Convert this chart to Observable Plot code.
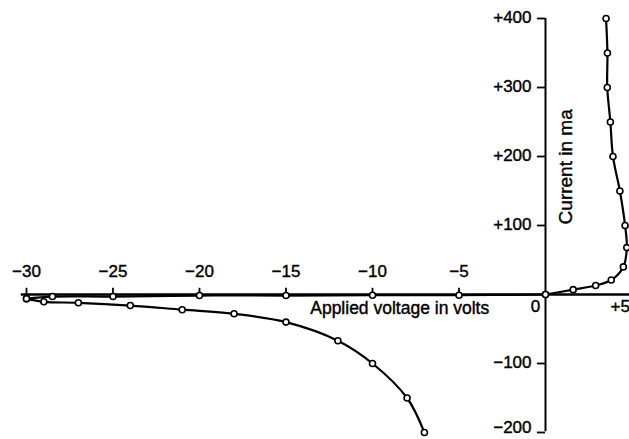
<!DOCTYPE html>
<html>
<head>
<meta charset="utf-8">
<script src="https://cdn.jsdelivr.net/npm/d3@7"></script>
<script src="https://cdn.jsdelivr.net/npm/@observablehq/plot@0.6"></script>
<style>
  html, body { margin: 0; padding: 0; background: #fff; overflow: hidden; }
  #chart svg { display: block; }
</style>
</head>
<body>
<div id="chart"></div>
<script>
// Forward characteristic (volts, mA)
const fwdVolts = [0, 1.6, 2.9, 3.8, 4.5, 4.7, 4.6, 4.3, 3.9, 3.75, 3.57, 3.58, 3.5];
const fwdCurrent = [0, 7, 13, 21, 40, 68, 100, 150, 200, 250, 300, 350, 400];
// Reverse leakage curve lying along the axis
const leakVolts = [-30, -28.5, -25, -20, -15, -10, -5, 0];
const leakCurrent = [-6, -3, -3, -1.5, -1.5, -1, -1, 0];
// Reverse breakdown curve
const revVolts = [-30, -29, -27, -24, -21, -18, -15, -12, -10, -8, -7];
const revCurrent = [-6, -10.6, -12, -16, -22, -28, -40, -67, -100, -150, -200];
// Ticks
const xTicks = [-30, -25, -20, -15, -10, -5];
const xTickLabels = ["\u221230", "\u221225", "\u221220", "\u221215", "\u221210", "\u22125"];
const yTicks = [400, 300, 200, 100, -100, -200];
const yTickLabels = ["+400", "+300", "+200", "+100", "\u2212100", "\u2212200"];

const toRows = (xs, ys) => xs.map((v, i) => ({v, i: ys[i]}));
const fwd = toRows(fwdVolts, fwdCurrent);
const leak = toRows(leakVolts, leakCurrent);
const rev = toRows(revVolts, revCurrent);
const xt = xTicks.map((v, k) => ({v, label: xTickLabels[k]}));
const yt = yTicks.map((v, k) => ({v, label: yTickLabels[k]}));
const yMin = d3.min(yTicks);

const font = "'Liberation Sans', Arial, sans-serif";
const txt = {fill: "black", stroke: "black", strokeWidth: 0.4};

const chart = Plot.plot({
  width: 629,
  height: 439,
  style: {fontFamily: font, fontSize: "16px", background: "white", color: "black", overflow: "hidden"},
  x: {domain: [-30, 5], range: [26, 631.5], axis: null},
  y: {domain: [-200, 400], range: [432, 18], axis: null},
  marks: [
    // axes
    Plot.ruleY([0], {x1: -30.3, x2: 5.5, stroke: "black", strokeWidth: 2.6}),
    Plot.ruleX([0], {y1: -199, y2: 400, stroke: "black", strokeWidth: 2}),
    Plot.ruleX(xt, {x: "v", y1: 0, y2: 9, stroke: "black", strokeWidth: 1.8}),
    Plot.ruleY(yt, {y: "v", x1: 0, x2: -0.47, stroke: "black", strokeWidth: 1.8}),
    Plot.text(xt, {x: "v", y: 0, dy: -23, text: "label", fontSize: 17, ...txt}),
    Plot.text(yt.filter(d => d.v > yMin), {x: 0, y: "v", dx: -14, dy: -1, textAnchor: "end", text: "label", fontSize: 17, ...txt}),
    Plot.text(yt.filter(d => d.v === yMin), {x: 0, y: "v", dx: -14, dy: -5, textAnchor: "end", text: "label", fontSize: 17, ...txt}),
    Plot.text(["0"], {x: 0, y: 0, dx: -10, dy: 12, text: d => d, fontSize: 17, ...txt}),
    Plot.text(["+5"], {x: 5, y: 0, dx: -2, dy: 12, textAnchor: "end", text: d => d, fontSize: 17, ...txt}),
    Plot.text(["Applied voltage in volts"], {x: -13.6, y: 0, dy: 14, textAnchor: "start", text: d => d, fontSize: 17.5, ...txt}),
    Plot.text(["Current in ma"], {x: 0, y: 185, dx: 20, rotate: -90, text: d => d, fontSize: 19, ...txt}),
    // curves
    Plot.line(leak, {x: "v", y: "i", curve: "catmull-rom", stroke: "black", strokeWidth: 2.2}),
    Plot.line(rev, {x: "v", y: "i", curve: "catmull-rom", stroke: "black", strokeWidth: 2.2}),
    Plot.line(fwd, {x: "v", y: "i", curve: "catmull-rom", stroke: "black", strokeWidth: 2.2}),
    Plot.dot(leak, {x: "v", y: "i", r: 3, fill: "white", stroke: "black", strokeWidth: 1.6}),
    Plot.dot(rev, {x: "v", y: "i", r: 3, fill: "white", stroke: "black", strokeWidth: 1.6}),
    Plot.dot(fwd, {x: "v", y: "i", r: 3, fill: "white", stroke: "black", strokeWidth: 1.6})
  ]
});
document.getElementById("chart").appendChild(chart);
</script>
</body>
</html>
